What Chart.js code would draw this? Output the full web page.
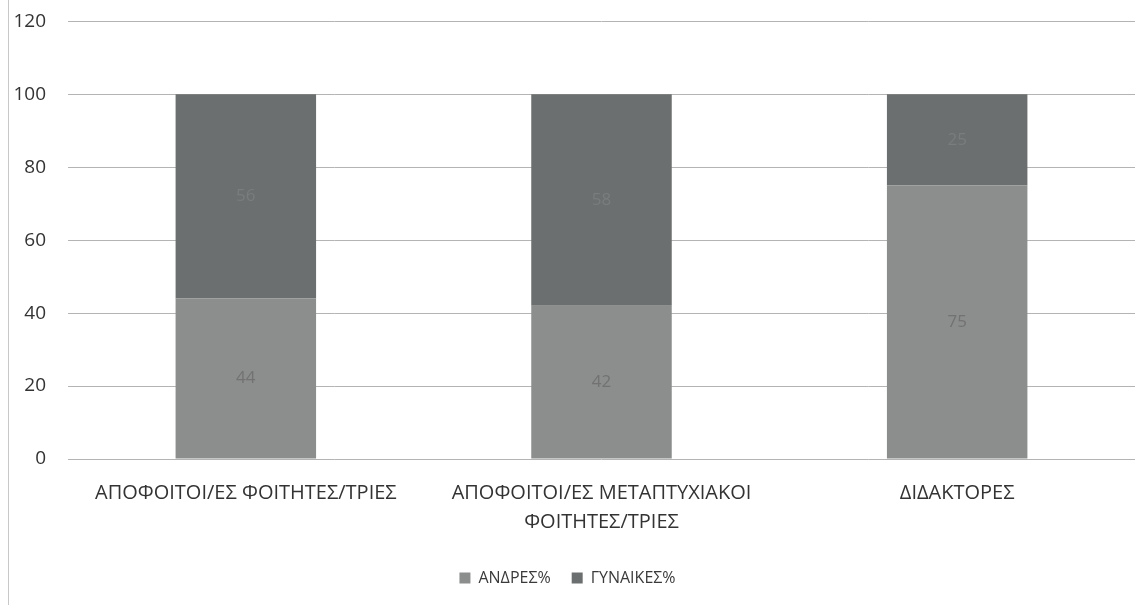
<!DOCTYPE html>
<html>
<head>
<meta charset="utf-8">
<script src="https://cdn.jsdelivr.net/npm/chart.js@4.4.0/dist/chart.umd.min.js"></script>
<style>
  html, body { margin: 0; padding: 0; background: #fff; overflow: hidden; }
  #wrap { position: relative; width: 1135px; height: 613px; overflow: hidden; }
  #wrap:before { content: ""; position: absolute; left: 8px; top: 0; bottom: 8px; width: 1px; background: #c8c8c8; }
  canvas { display: block; position: absolute; left: 0; top: -12px; }
</style>
</head>
<body>
<div id="wrap"><canvas id="c" width="1135" height="625"></canvas></div>
<script>
const categories = [
  "ΑΠΟΦΟΙΤΟΙ/ΕΣ ΦΟΙΤΗΤΕΣ/ΤΡΙΕΣ",
  ["ΑΠΟΦΟΙΤΟΙ/ΕΣ ΜΕΤΑΠΤΥΧΙΑΚΟΙ", "ΦΟΙΤΗΤΕΣ/ΤΡΙΕΣ"],
  "ΔΙΔΑΚΤΟΡΕΣ"
];
const seriesNames = ["ΑΝΔΡΕΣ%", "ΓΥΝΑΙΚΕΣ%"];
const andres = [44, 42, 75];
const gynaikes = [56, 58, 25];
const yTicks = [0, 20, 40, 60, 80, 100, 120];

const labelPlugin = {
  id: 'segLabels',
  afterDatasetsDraw(chart) {
    const ctx = chart.ctx;
    const colors = ['#727272', '#7a7d7d'];
    chart.data.datasets.forEach((ds, di) => {
      const meta = chart.getDatasetMeta(di);
      meta.data.forEach((el, i) => {
        const cy = (el.y + el.base) / 2;
        ctx.save();
        ctx.font = '17px "Open Sans", sans-serif';
        ctx.fillStyle = colors[di];
        ctx.textAlign = 'center';
        ctx.textBaseline = 'middle';
        ctx.fillText(String(ds.data[i]), el.x, cy);
        ctx.restore();
      });
    });
  }
};

const FONT = '"Open Sans", sans-serif';

new Chart(document.getElementById('c'), {
  type: 'bar',
  data: {
    labels: categories,
    datasets: [
      { label: seriesNames[0], data: andres, backgroundColor: '#8c8d8d', borderWidth: 0, categoryPercentage: 0.395, barPercentage: 1 },
      { label: seriesNames[1], data: gynaikes, backgroundColor: '#6c6f6f', borderWidth: 0, categoryPercentage: 0.395, barPercentage: 1 }
    ]
  },
  options: {
    responsive: false,
    animation: false,
    layout: { padding: { left: 0, right: 0, top: 0, bottom: 17 } },
    plugins: {
      legend: {
        position: 'bottom',
        labels: {
          boxWidth: 11, boxHeight: 11, padding: 21,
          color: '#3a3a3a', font: { family: FONT, size: 16 }
        }
      },
      tooltip: { enabled: false }
    },
    scales: {
      x: {
        stacked: true,
        grid: { display: false },
        border: { display: false },
        ticks: { color: '#333', font: { family: FONT, size: 20, lineHeight: 1.45 }, padding: 12, maxRotation: 0, autoSkip: false }
      },
      y: {
        stacked: true,
        min: 0, max: 120,
        afterBuildTicks(axis) { axis.ticks = yTicks.map(v => ({ value: v })); },
        afterFit(axis) { axis.width = 68; },
        grid: { color: '#b4b4b4', lineWidth: 1, drawTicks: false },
        border: { display: false },
        ticks: { color: '#333', font: { family: FONT, size: 19 }, padding: 22 }
      }
    }
  },
  plugins: [labelPlugin]
});
</script>
</body>
</html>
